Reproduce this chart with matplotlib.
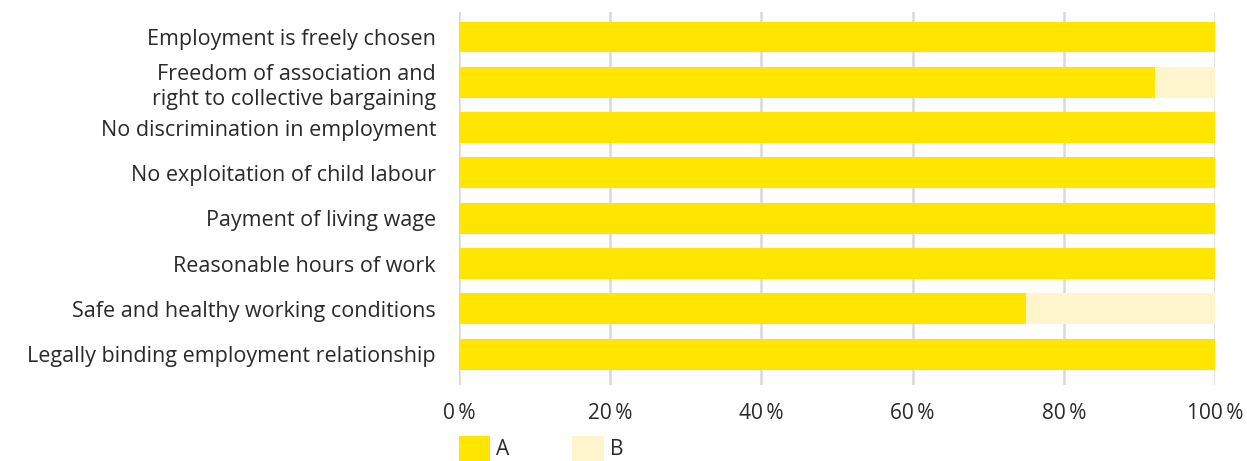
import matplotlib
matplotlib.use("Agg")
import matplotlib.pyplot as plt
from matplotlib.ticker import FuncFormatter

categories = [
    "Employment is freely chosen",
    "Freedom of association and\nright to collective bargaining",
    "No discrimination in employment",
    "No exploitation of child labour",
    "Payment of living wage",
    "Reasonable hours of work",
    "Safe and healthy working conditions",
    "Legally binding employment relationship",
]
series_a = [100, 92, 100, 100, 100, 100, 75, 100]
series_b = [0, 8, 0, 0, 0, 0, 25, 0]
xticks = [0, 20, 40, 60, 80, 100]

color_a = "#FFE500"
color_b = "#FFF5CC"

plt.rcParams["font.family"] = ["Open Sans", "DejaVu Sans"]

W, H = 1247, 461
fig = plt.figure(figsize=(W / 100, H / 100), dpi=100)
ax = fig.add_axes([459 / W, 1 - 385 / H, (1215 - 459) / W, (385 - 12) / H])

y = list(range(len(categories)))
ax.barh(y, series_a, height=0.68, color=color_a, label="A", zorder=3)
ax.barh(y, series_b, left=series_a, height=0.68, color=color_b, label="B", zorder=3)

ax.set_xlim(0, 100)
ax.set_ylim(7.68, -0.55)
ax.set_yticks(y)
ax.set_yticklabels(categories, fontsize=15.5, color="#2a2a2a", linespacing=1.25)
ax.set_xticks(xticks)
ax.xaxis.set_major_formatter(FuncFormatter(lambda v, p: f"{int(v)}\u2009%"))
ax.tick_params(axis="x", labelsize=15, colors="#2a2a2a", length=0, pad=13)
ax.tick_params(axis="y", length=0, pad=16.5)
ax.grid(axis="x", color="#d9d9d9", linewidth=1.8, zorder=0)
for s in ax.spines.values():
    s.set_visible(False)

handles, labels = ax.get_legend_handles_labels()
fig.legend(handles, labels, loc="lower left", bbox_to_anchor=(459 / W, 0.0),
           ncol=2, frameon=False, fontsize=15, handlelength=1.5, handleheight=1.5,
           columnspacing=3.0, handletextpad=0.3, borderpad=0, borderaxespad=0,
           labelcolor="#2a2a2a")

fig.savefig("out.png", dpi=100)
